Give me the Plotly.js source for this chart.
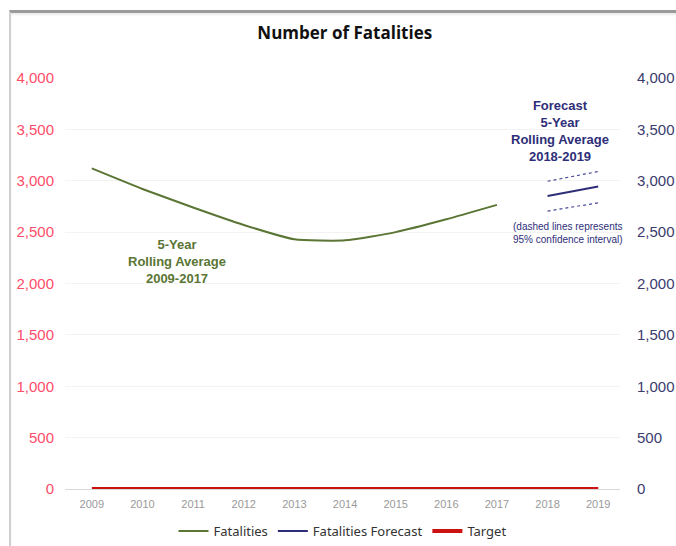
<!DOCTYPE html>
<html>
<head>
<meta charset="utf-8">
<script src="https://cdn.plot.ly/plotly-3.0.1.min.js"></script>
<style>
html,body{margin:0;padding:0;background:#fff;}
#chart{width:676px;height:546px;}
#frame{position:absolute;left:9px;top:10px;width:667px;height:536px;border-top:3px solid #9a9a9a;border-left:2px solid #d0d0d0;pointer-events:none;box-shadow:inset 0 2px 2px rgba(0,0,0,0.08);}
</style>
</head>
<body>
<div id="chart"></div>
<div id="frame"></div>
<script>
const years = [2009, 2010, 2011, 2012, 2013, 2014, 2015, 2016, 2017];
const fatalities = [3120, 2920, 2740, 2570, 2430, 2420, 2500, 2625, 2765];
const forecastYears = [2018, 2019];
const forecast = [2852, 2945];
const forecastUpper = [2995, 3090];
const forecastLower = [2705, 2785];
const targetYears = [2009, 2010, 2011, 2012, 2013, 2014, 2015, 2016, 2017, 2018, 2019];
const target = [0, 0, 0, 0, 0, 0, 0, 0, 0, 0, 0];
const yTicks = [0, 500, 1000, 1500, 2000, 2500, 3000, 3500, 4000];

const green = '#5a7534';
const navy = '#2e2e78';

const traces = [
  {x: years, y: fatalities, name: 'Fatalities', type: 'scatter', mode: 'lines',
   line: {color: green, width: 2, shape: 'spline', smoothing: 0.5}},
  {x: forecastYears, y: forecast, name: 'Fatalities Forecast', type: 'scatter', mode: 'lines',
   line: {color: navy, width: 2}, yaxis: 'y2'},
  {x: targetYears, y: target, name: 'Target', type: 'scatter', mode: 'lines',
   line: {color: '#cc1111', width: 4}},
  {x: forecastYears, y: forecastUpper, showlegend: false, type: 'scatter', mode: 'lines',
   line: {color: '#4a4a99', width: 1.2, dash: 'dot'}, yaxis: 'y2'},
  {x: forecastYears, y: forecastLower, showlegend: false, type: 'scatter', mode: 'lines',
   line: {color: '#4a4a99', width: 1.2, dash: 'dot'}, yaxis: 'y2'}
];

const layout = {
  width: 676, height: 546,
  paper_bgcolor: '#fff', plot_bgcolor: '#fff',
  margin: {l: 65, r: 56, t: 78, b: 57},
  title: {text: '<b>Number of Fatalities</b>', x: 0.51, xanchor: 'center', y: 0.94, yanchor: 'middle',
          font: {family: 'Open Sans, Noto Sans, sans-serif', size: 17, color: '#111'}},
  showlegend: true,
  legend: {orientation: 'h', x: 0.5, xanchor: 'center', yref: 'container', y: (546 - 531) / 546, yanchor: 'middle',
           font: {family: 'Noto Sans, sans-serif', size: 13, color: '#333'}, traceorder: 'normal'},
  xaxis: {range: [2008.47, 2019.43], tickvals: targetYears, ticktext: targetYears.map(String),
          showgrid: false, zeroline: false, showline: true, linecolor: '#d8d8d8', linewidth: 1,
          ticks: '', ticklabelstandoff: 5,
          tickfont: {family: 'Liberation Sans, Arial, sans-serif', size: 11, color: '#999'}},
  yaxis: {range: [0, 4000], tickvals: yTicks, ticktext: yTicks.map(v => v.toLocaleString('en-US')),
          showgrid: true, gridcolor: '#f3f3f3', zeroline: false, ticks: '',
          ticklabelstandoff: 10,
          tickfont: {family: 'Liberation Sans, Arial, sans-serif', size: 15, color: '#ff4d6a'}},
  yaxis2: {range: [0, 4000], overlaying: 'y', side: 'right', tickvals: yTicks,
           ticktext: yTicks.map(v => v.toLocaleString('en-US')),
           showgrid: false, zeroline: false, ticks: '', ticklabelstandoff: 16,
           tickfont: {family: 'Liberation Sans, Arial, sans-serif', size: 15, color: '#3b3b6e'}},
  annotations: [
    {xref: 'paper', yref: 'paper', x: (177 - 65) / 555, y: (489 - 261) / 411, showarrow: false,
     xanchor: 'center', yanchor: 'middle',
     text: '<b>5-Year<br>Rolling Average<br>2009-2017</b>', align: 'center',
     font: {family: 'Liberation Sans, Arial, sans-serif', size: 13, color: green}},
    {xref: 'paper', yref: 'paper', x: (560 - 65) / 555, y: (489 - 131) / 411, showarrow: false,
     xanchor: 'center', yanchor: 'middle',
     text: '<b>Forecast<br>5-Year<br>Rolling Average<br>2018-2019</b>', align: 'center',
     font: {family: 'Liberation Sans, Arial, sans-serif', size: 13, color: navy}},
    {xref: 'paper', yref: 'paper', x: (568 - 65) / 555, y: (489 - 233) / 411, showarrow: false,
     xanchor: 'center', yanchor: 'middle',
     text: '(dashed lines represents<br>95% confidence interval)', align: 'center',
     font: {family: 'Liberation Sans, Arial, sans-serif', size: 10, color: navy}}
  ]
};

Plotly.newPlot('chart', traces, layout, {displayModeBar: false, staticPlot: true});
</script>
</body>
</html>
